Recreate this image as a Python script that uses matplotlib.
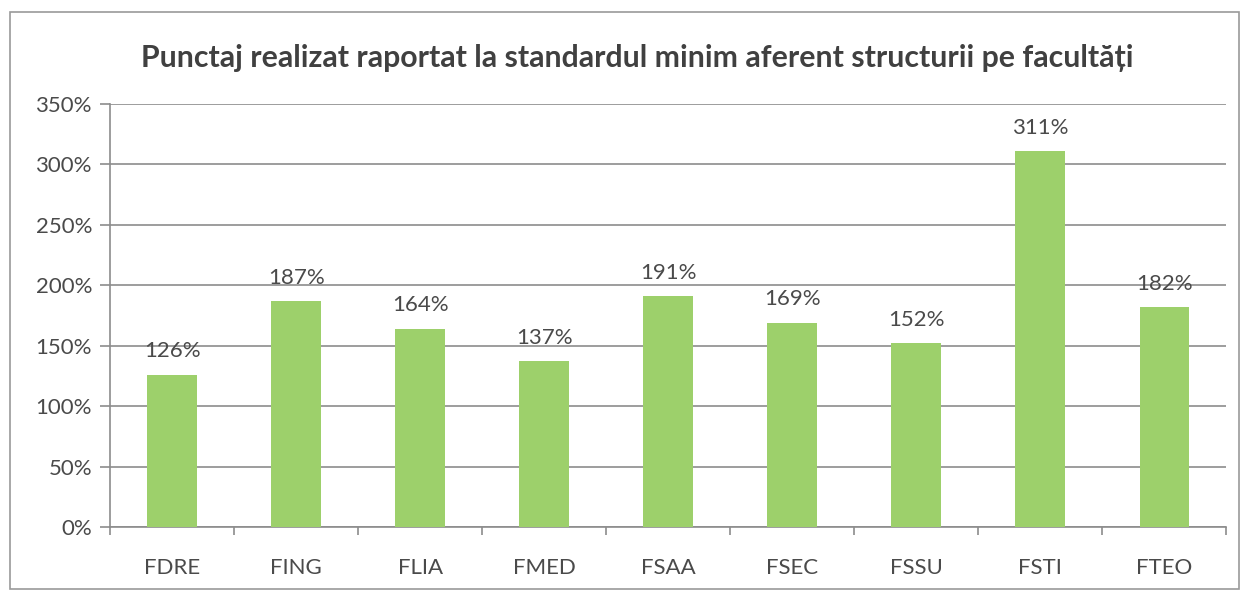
#!/usr/bin/env python3
"""Punctaj realizat raportat la standardul minim, bar chart per facultate."""

import matplotlib.pyplot as plt
from matplotlib.patches import Rectangle
from matplotlib.ticker import FuncFormatter, FixedLocator

FACULTIES = ["FDRE", "FING", "FLIA", "FMED", "FSAA", "FSEC", "FSSU", "FSTI", "FTEO"]
SCORES = [126, 187, 164, 137, 191, 169, 152, 311, 182]
Y_TICKS = [0, 50, 100, 150, 200, 250, 300, 350]

TITLE = "Punctaj realizat raportat la standardul minim aferent structurii pe facultăți"

BAR_COLOR = "#9dd06b"
TEXT_COLOR = "#4a4a4a"
GRID_COLOR = "#8c8c8c"

plt.rcParams["font.family"] = ["Lato", "DejaVu Sans"]


def main():
    figure = plt.figure(figsize=(12.45, 5.94), dpi=100)
    axis = figure.add_axes([0.0884, 0.1128, 0.8966, 0.7122])

    positions = list(range(len(FACULTIES)))
    axis.bar(positions, SCORES, width=0.4, color=BAR_COLOR, zorder=3)

    for x, value in zip(positions, SCORES):
        axis.text(
            x, value + 11, f"{value}%",
            ha="center", va="bottom",
            fontsize=16, color=TEXT_COLOR, zorder=4,
        )

    axis.set_xlim(-0.5, len(FACULTIES) - 0.5)
    axis.set_ylim(0, 350)
    axis.set_yticks(Y_TICKS)
    axis.yaxis.set_major_formatter(FuncFormatter(lambda v, _: f"{v:.0f}%"))
    axis.yaxis.grid(True, color=GRID_COLOR, linewidth=1.2, zorder=0)

    axis.set_xticks(positions)
    axis.set_xticklabels(FACULTIES)
    axis.xaxis.set_minor_locator(
        FixedLocator([p - 0.5 for p in positions] + [len(FACULTIES) - 0.5])
    )
    axis.tick_params(axis="x", which="major", length=0, pad=22,
                     labelsize=16, labelcolor=TEXT_COLOR)
    axis.tick_params(axis="x", which="minor", length=6, width=1.2,
                     color=GRID_COLOR, direction="out")
    axis.tick_params(axis="y", length=7, width=1.2, color=GRID_COLOR,
                     labelsize=16, labelcolor=TEXT_COLOR, pad=6)

    for side in ["top", "right"]:
        axis.spines[side].set_visible(False)
    for side in ["left", "bottom"]:
        axis.spines[side].set_color(GRID_COLOR)
        axis.spines[side].set_linewidth(1.2)

    figure.text(0.512, 0.902, TITLE, ha="center", va="center",
                fontsize=21.8, fontweight="bold", color="#404040")

    figure.patches.append(
        Rectangle((0.008, 0.008), 0.987, 0.972, transform=figure.transFigure,
                  fill=False, edgecolor="#9a9a9a", linewidth=1.2)
    )

    figure.savefig("out.png", dpi=100)
    plt.close(figure)


if __name__ == "__main__":
    main()
